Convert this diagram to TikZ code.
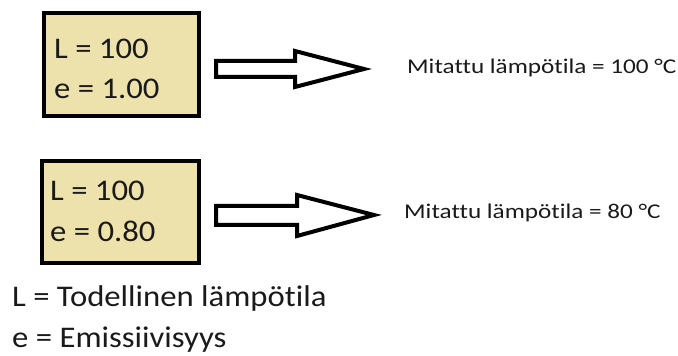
\documentclass[tikz,border=0pt]{standalone}
\usepackage{fontspec}
\setmainfont{Carlito}[Ligatures={NoCommon}]
\newfontfamily\widebig{Carlito}[Ligatures={NoCommon},FakeStretch=1.09]
\newfontfamily\widesmall{Carlito}[Ligatures={NoCommon},FakeStretch=1.2]
\definecolor{boxfill}{HTML}{EEE2AC}
\definecolor{inkc}{HTML}{1A1A1A}
\begin{document}
\begin{tikzpicture}[x=1pt,y=1pt,
  valbox/.style={draw=black,line width=4pt,fill=boxfill},
  blockarrow/.style={draw=black,line width=4pt,fill=white,line join=miter},
  bigtext/.style={anchor=base west,inner sep=0pt,text=inkc,font=\widebig\fontsize{30}{36}\selectfont},
  smalltext/.style={anchor=base west,inner sep=0pt,text=inkc,font=\widesmall\fontsize{21}{25}\selectfont}]
\useasboundingbox (0,0) rectangle (678,356);
% first case
\draw[valbox] (44,343) rectangle (199,240);
\node[bigtext] (l1) at (54,297) {L = 100};
\node[bigtext] (e1) at (54,257) {e = 1.00};
\draw[blockarrow] (216,295) -- (295,295) -- (295,305) -- (364,287) -- (295,269) -- (295,279) -- (216,279) -- cycle;
\node[smalltext] (m1) at (407,282) {Mitattu lämpötila = 100 °C};
% second case
\draw[valbox] (42,195) rectangle (199,93);
\node[bigtext] (l2) at (50,155) {L = 100};
\node[bigtext] (e2) at (50,114) {e = 0.80};
\draw[blockarrow] (216,150) -- (297,150) -- (297,161) -- (374,141) -- (297,120) -- (297,131) -- (216,131) -- cycle;
\node[smalltext] (m2) at (404,137) {Mitattu lämpötila = 80 °C};
% legend
\node[bigtext] (leg1) at (12,49) {L = Todellinen lämpötila};
\node[bigtext] (leg2) at (12,8) {e = Emissiivisyys};
\end{tikzpicture}
\end{document}
